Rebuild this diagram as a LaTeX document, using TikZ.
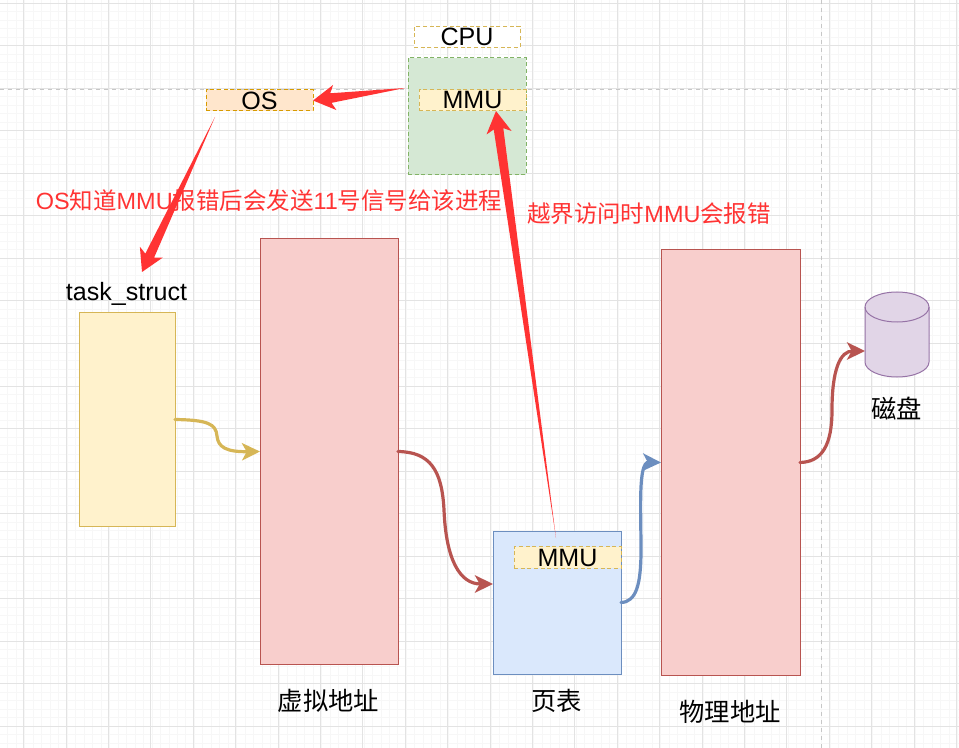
\documentclass[tikz,border=0pt]{standalone}
\usepackage{fontspec}
\setmainfont{Liberation Sans}
\newfontfamily\cjk{Noto Sans CJK SC}
\usetikzlibrary{arrows.meta,calc}
\def\px{0.75pt}
\definecolor{alertred}{HTML}{FF3333}
\tikzstyle{box} = [rectangle,inner sep=0pt,outer sep=0pt,line width=0.75pt,font=\fontsize{18.8}{20}\selectfont]
\tikzstyle{pinkbox} = [box,fill={rgb,255:red,248;green,206;blue,204},draw={rgb,255:red,184;green,84;blue,80}]
\tikzstyle{bluebox} = [box,fill={rgb,255:red,218;green,232;blue,252},draw={rgb,255:red,108;green,142;blue,191}]
\tikzstyle{yellowbox} = [box,fill={rgb,255:red,255;green,242;blue,204},draw={rgb,255:red,214;green,182;blue,86}]
\tikzstyle{tag} = [yellowbox,densely dashed]
\tikzstyle{disk} = [fill={rgb,255:red,225;green,213;blue,231},draw={rgb,255:red,150;green,115;blue,166},line width=0.75pt]
\tikzstyle{caption} = [inner sep=0pt,font=\fontsize{19}{20}\selectfont\cjk]
\tikzstyle{note} = [inner sep=0pt,text=alertred,font=\fontsize{17.6}{20}\selectfont]
\tikzstyle{link} = [->,line width=2.4pt,line cap=round]
\tikzstyle{fat} = [fill=alertred,draw=none]
\tikzset{>={Stealth[length=13.5pt,width=13pt,inset=3.5pt]}}
% tapered arrow from a thin tail to a wide head
\newcommand{\fatarrow}[2]{
    \path[fat] (#1) -- ($(#2)!14pt!-15:(#1)$) -- ($(#2)!19pt!-30:(#1)$) -- (#2)
        -- ($(#2)!19pt!30:(#1)$) -- ($(#2)!14pt!15:(#1)$) -- cycle;
}
\begin{document}
\begin{tikzpicture}[x=0.75pt,y=-0.75pt]
\useasboundingbox (0,0) rectangle (959,748);
%grid
\foreach \k in {0,...,113} {
    \draw[line width=0.75pt,black!3] ({-0.6+8.48*\k},0) -- ({-0.6+8.48*\k},748);
}
\foreach \k in {0,...,88} {
    \draw[line width=0.75pt,black!3] (0,{3.5+8.5*\k}) -- (959,{3.5+8.5*\k});
}
\foreach \k in {0,...,22} {
    \draw[line width=0.75pt,black!11] ({23.6+42.4*\k},0) -- ({23.6+42.4*\k},748);
}
\foreach \k in {0,...,17} {
    \draw[line width=0.75pt,black!11] (0,{3.5+42.5*\k}) -- (959,{3.5+42.5*\k});
}
\draw[line width=0.75pt,black!22,dashed] (0,90) -- (959,90);
\draw[line width=0.75pt,black!22,dashed] (821,0) -- (821,748);
%cpu
\node[tag,fill=white,minimum width=106*\px,minimum height=21*\px] (cpu) at (467,37) {CPU};
\node[box,densely dashed,fill={rgb,255:red,213;green,232;blue,212},draw={rgb,255:red,130;green,179;blue,102},
    minimum width=118*\px,minimum height=117*\px] (cpubox) at (467,116.5) {};
\node[tag,minimum width=107*\px,minimum height=21*\px] (mmu) at (472.5,100.5) {MMU};
\node[tag,fill={rgb,255:red,255;green,230;blue,204},draw={rgb,255:red,215;green,155;blue,0},
    minimum width=107*\px,minimum height=21*\px] (os) at (259.5,100.5) {OS};
%memory
\node[caption,font=\fontsize{18.8}{20}\selectfont] (tasklabel) at (126.5,294) {task\_struct};
\node[yellowbox,minimum width=96*\px,minimum height=213*\px] (task) at (127,419.5) {};
\node[pinkbox,minimum width=138*\px,minimum height=425*\px] (virt) at (329,451.5) {};
\node[bluebox,minimum width=128*\px,minimum height=143*\px] (page) at (557,602.5) {};
\node[tag,minimum width=107*\px,minimum height=21.5*\px] (pagemmu) at (567.5,557.5) {MMU};
\node[pinkbox,minimum width=139*\px,minimum height=425*\px] (phys) at (730.5,462.5) {};
%disk
\path[disk] (865,307) -- (865,362) arc[start angle=180,end angle=0,x radius=32,y radius=15]
    -- (929,307) arc[start angle=0,end angle=-180,x radius=32,y radius=15] -- cycle;
\draw[disk,fill=none] (865,307) arc[start angle=180,end angle=0,x radius=32,y radius=15];
%labels
\node[caption] (virtlabel) at (328.5,701) {虚拟地址};
\node[caption] (pagelabel) at (556.5,701) {页表};
\node[caption] (physlabel) at (730,712) {物理地址};
\node[caption] (disklabel) at (896.5,409) {磁盘};
\node[note] (osnote) at (269,201) {OS{\cjk 知道}MMU{\cjk 报错后会发送}11{\cjk 号信号给该进程}};
\node[note] (mmunote) at (649,214) {{\cjk 越界访问时}MMU{\cjk 会报错}};
%links
\coordinate (pagein) at (493,584);
\coordinate (diskin) at (865,351);
\draw[link,draw={rgb,255:red,214;green,182;blue,86}] (task.east) .. controls (208,420) and (216,424) .. (217,436)
    .. controls (218,447) and (226,452) .. (virt.west);
\draw[link,draw={rgb,255:red,184;green,84;blue,80}] (virt.east) .. controls (430,452) and (442,470) .. (444,510)
    .. controls (446,560) and (460,584) .. (pagein);
\draw[link,draw={rgb,255:red,108;green,142;blue,191}] (page.east) .. controls (636,602) and (641,585) .. (641,550)
    .. controls (641,510) and (638,462) .. (phys.west);
\draw[link,draw={rgb,255:red,184;green,84;blue,80}] (phys.east) .. controls (822,462) and (832,445) .. (832,410)
    .. controls (832,370) and (840,351) .. (diskin);
%red arrows
\coordinate (cputail) at (405,88);
\coordinate (ostail) at (215,117);
\coordinate (tasktip) at (142,272);
\coordinate (pagetail) at (556,538);
\coordinate (mmutip) at (496,111);
\fatarrow{cputail}{os.east}
\fatarrow{ostail}{tasktip}
\fatarrow{pagetail}{mmutip}
\end{tikzpicture}
\end{document}
